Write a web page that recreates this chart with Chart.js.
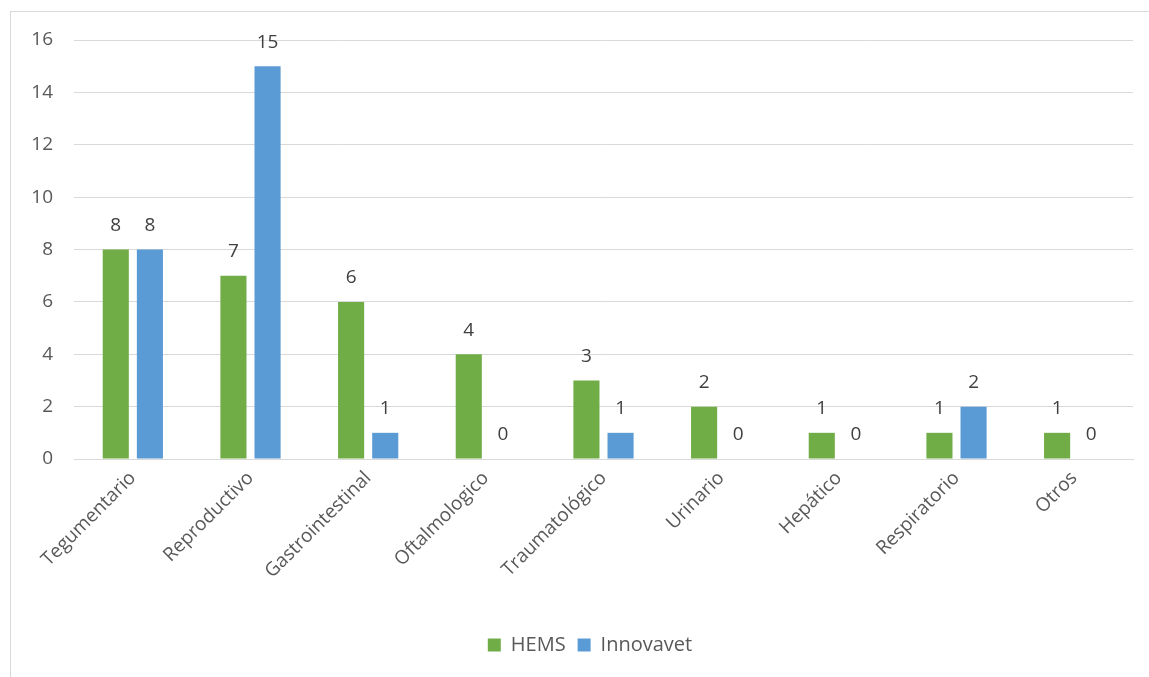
<!DOCTYPE html>
<html><head><meta charset="utf-8">
<script src="https://cdn.jsdelivr.net/npm/chart.js@4"></script>
<style>
html,body{margin:0;padding:0;background:#fff;overflow:hidden}
#frame{position:absolute;left:10px;top:11px;width:1160px;height:700px;border:1px solid #d9d9d9;box-sizing:border-box}
#wrap{position:absolute;left:0;top:0;width:1196px;height:677px}
</style></head>
<body>
<div id="frame"></div>
<div id="wrap"><canvas id="c" width="1196" height="677"></canvas></div>
<script>
const categories = ["Tegumentario","Reproductivo","Gastrointestinal","Oftalmologico","Traumatológico","Urinario","Hepático","Respiratorio","Otros"];
const hemsValues = [8,7,6,4,3,2,1,1,1];
const innovavetValues = [8,15,1,0,1,0,0,2,0];
const seriesNames = ["HEMS","Innovavet"];
const yTicks = [0,2,4,6,8,10,12,14,16];

const FONT = "'Open Sans', sans-serif";

const valueLabels = {
  id:'valueLabels',
  afterDatasetsDraw(chart){
    const ctx = chart.ctx;
    ctx.save();
    ctx.font = "19px " + FONT;
    ctx.fillStyle = "#404040";
    ctx.textAlign = "center";
    ctx.textBaseline = "middle";
    chart.data.datasets.forEach((ds,i)=>{
      const meta = chart.getDatasetMeta(i);
      meta.data.forEach((bar,j)=>{
        ctx.fillText(String(ds.data[j]), bar.x, bar.y - 24);
      });
    });
    ctx.restore();
  }
};

new Chart(document.getElementById('c'),{
  type:'bar',
  data:{
    labels:categories,
    datasets:[
      {label:seriesNames[0],data:hemsValues,backgroundColor:'#70ad47',categoryPercentage:0.58,barPercentage:0.765},
      {label:seriesNames[1],data:innovavetValues,backgroundColor:'#5b9bd5',categoryPercentage:0.58,barPercentage:0.765}
    ]
  },
  options:{
    responsive:false,
    animation:false,
    layout:{padding:{left:0,right:16,top:40,bottom:12}},
    plugins:{
      legend:{position:'bottom',labels:{font:{family:FONT,size:20},color:'#595959',boxWidth:13,boxHeight:13,padding:12}},
      tooltip:{enabled:false}
    },
    scales:{
      x:{
        grid:{display:false},
        border:{color:'#d9d9d9'},
        ticks:{font:{family:FONT,size:19},color:'#595959',minRotation:45,maxRotation:45,padding:0},
        afterFit(s){ s.height = 164; }
      },
      y:{
        min:0,max:16,
        afterBuildTicks(s){ s.ticks = yTicks.map(v=>({value:v})); },
        afterFit(s){ s.width = 74; },
        grid:{color:'#d9d9d9',drawTicks:false},
        border:{display:false},
        ticks:{font:{family:FONT,size:19},color:'#595959',padding:21}
      },
      yRight:{
        type:'linear',position:'right',min:0,max:16,
        grid:{display:false,drawTicks:false},
        border:{display:false},
        ticks:{display:false},
        afterFit(s){ s.width = 47; }
      }
    }
  },
  plugins:[valueLabels]
});
</script>
</body></html>
